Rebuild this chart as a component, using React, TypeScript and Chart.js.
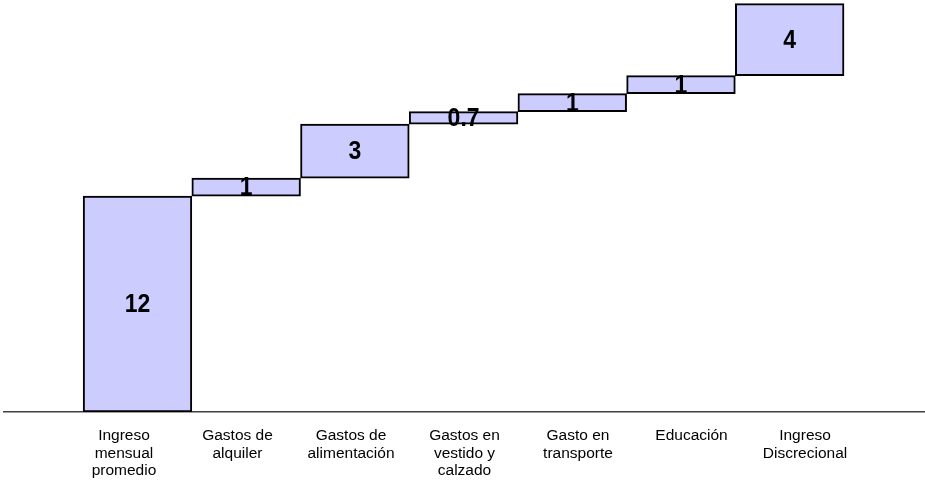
import React, { useEffect, useRef } from "react";
import { Chart, registerables } from "chart.js";

Chart.register(...registerables);

// Monthly budget waterfall: each step stacks on the running total
const categories: string[][] = [
  ["Ingreso", "mensual", "promedio"],
  ["Gastos de", "alquiler"],
  ["Gastos de", "alimentación"],
  ["Gastos en", "vestido y", "calzado"],
  ["Gasto en", "transporte"],
  ["Educación"],
  ["Ingreso", "Discrecional"],
];
const stepValues: number[] = [12, 1, 3, 0.7, 1, 1, 4];
const valueLabels: string[] = ["12", "1", "3", "0.7", "1", "1", "4"];

const FONT = "'Liberation Sans', Arial, Helvetica, sans-serif";

function buildFloatingBars() {
  let running = 0;
  return stepValues.map((v, i) => {
    const start = running;
    running += v;
    return { x: i, y: [start, running] };
  });
}

// Bold value text centred in each floating bar (slightly tall glyphs)
const valueLabelPlugin = {
  id: "valueLabels",
  afterDatasetsDraw(chart: any) {
    const meta = chart.getDatasetMeta(0);
    const ctx = chart.ctx;
    const stretch = 1.15;
    meta.data.forEach((bar: any, i: number) => {
      const p = bar.getProps(["x", "y", "base"], true);
      const cy = (p.y + p.base) / 2 + 1;
      ctx.save();
      ctx.translate(p.x, cy);
      ctx.scale(1, stretch);
      ctx.font = `bold 23px ${FONT}`;
      ctx.fillStyle = "#000000";
      ctx.textAlign = "center";
      ctx.textBaseline = "middle";
      ctx.fillText(valueLabels[i], 0, 0);
      ctx.restore();
    });
  },
};

export default function App() {
  const canvasRef = useRef<HTMLCanvasElement | null>(null);

  useEffect(() => {
    if (!canvasRef.current) return;
    const chart = new Chart(canvasRef.current, {
      type: "bar",
      data: {
        datasets: [
          {
            data: buildFloatingBars() as any,
            backgroundColor: "#CCCCFF",
            borderColor: "#000000",
            borderWidth: 2,
            borderSkipped: false,
            categoryPercentage: 1,
            barPercentage: 1,
            xAxisID: "x",
            yAxisID: "y",
          },
        ],
      },
      options: {
        responsive: false,
        animation: false,
        layout: { padding: { left: 4, right: 0, top: 0, bottom: 0 } },
        plugins: {
          legend: { display: false },
          tooltip: { enabled: false },
        },
        scales: {
          x: {
            type: "linear",
            display: false,
            offset: false,
            min: -1.228,
            max: 7.245,
          },
          xLabels: {
            type: "linear",
            position: "bottom",
            offset: false,
            min: -1.057,
            max: 7.057,
            afterBuildTicks: (scale: any) => {
              scale.ticks = categories.map((_, i) => ({ value: i }));
            },
            afterFit: (scale: any) => {
              scale.height = 70;
              scale.paddingLeft = 0;
              scale.paddingRight = 0;
            },
            grid: { display: true, offset: false, drawOnChartArea: false, drawTicks: false },
            border: { display: true, color: "#404040", width: 1.5 },
            ticks: {
              autoSkip: false,
              maxRotation: 0,
              minRotation: 0,
              padding: 15,
              color: "#000000",
              font: { family: FONT, size: 15.5, lineHeight: 1.14 },
              callback: (v: any) => categories[Math.round(Number(v))] ?? "",
            },
          },
          y: {
            display: false,
            min: 0,
            max: 22.9,
          },
        },
      },
      plugins: [valueLabelPlugin],
    });
    return () => chart.destroy();
  }, []);

  return (
    <div style={{ position: "fixed", left: 0, top: 0, width: 925, height: 482, background: "#ffffff" }}>
      <canvas ref={canvasRef} width={925} height={482} />
    </div>
  );
}
